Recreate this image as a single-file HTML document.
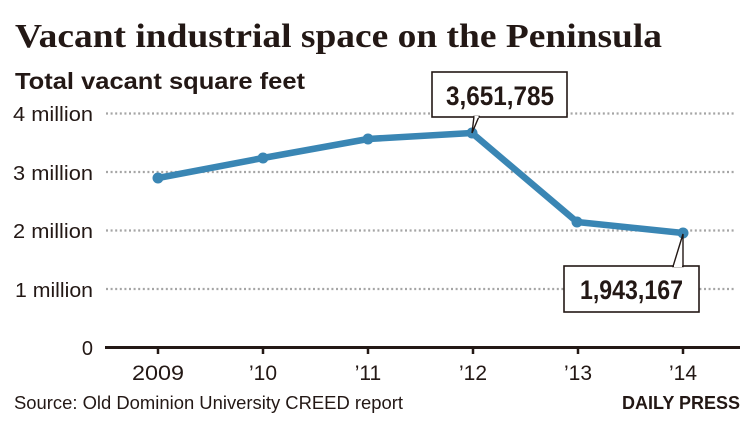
<!DOCTYPE html>
<html><head><meta charset="utf-8"><style>
html,body{margin:0;padding:0;background:#fff;}
svg{display:block;}
</style></head><body>
<svg width="750" height="422" viewBox="0 0 750 422" xmlns="http://www.w3.org/2000/svg">
<rect width="750" height="422" fill="#fff"/>
<text x="15" y="47" font-family="Liberation Serif, serif" font-weight="bold" font-size="34" fill="#231815" textLength="647" lengthAdjust="spacingAndGlyphs">Vacant industrial space on the Peninsula</text>
<text x="15" y="89" font-family="Liberation Sans, sans-serif" font-weight="bold" font-size="23" fill="#231815" textLength="290" lengthAdjust="spacingAndGlyphs">Total vacant square feet</text>
<g stroke="#a5a5a5" stroke-width="2.2" stroke-dasharray="2,2.6">
<line x1="106" y1="113.5" x2="736" y2="113.5"/>
<line x1="106" y1="172" x2="736" y2="172"/>
<line x1="106" y1="230.5" x2="736" y2="230.5"/>
<line x1="106" y1="289" x2="736" y2="289"/>
</g>
<g font-family="Liberation Sans, sans-serif" font-size="20" fill="#231815" text-anchor="end">
<text x="93" y="121" textLength="80" lengthAdjust="spacingAndGlyphs">4 million</text>
<text x="93" y="180" textLength="80" lengthAdjust="spacingAndGlyphs">3 million</text>
<text x="93" y="238" textLength="80" lengthAdjust="spacingAndGlyphs">2 million</text>
<text x="93" y="297" textLength="78" lengthAdjust="spacingAndGlyphs">1 million</text>
<text x="93" y="355">0</text>
</g>
<line x1="105" y1="347.5" x2="740" y2="347.5" stroke="#231815" stroke-width="3"/>
<g stroke="#231815" stroke-width="2.5">
<line x1="158" y1="347" x2="158" y2="354"/>
<line x1="263" y1="347" x2="263" y2="354"/>
<line x1="368" y1="347" x2="368" y2="354"/>
<line x1="473" y1="347" x2="473" y2="354"/>
<line x1="578" y1="347" x2="578" y2="354"/>
<line x1="683" y1="347" x2="683" y2="354"/>
</g>
<g font-family="Liberation Sans, sans-serif" font-size="21" fill="#231815" text-anchor="middle">
<text x="158" y="380" textLength="52" lengthAdjust="spacingAndGlyphs">2009</text>
<text x="263" y="380">’10</text>
<text x="368" y="380">’11</text>
<text x="473" y="380">’12</text>
<text x="578" y="380">’13</text>
<text x="683" y="380">’14</text>
</g>
<polyline points="158,178 263,158 368,139 472,133 577,222 683,233" fill="none" stroke="#3a86b4" stroke-width="6.5" stroke-linejoin="round" stroke-linecap="round"/>
<g fill="#3a86b4">
<circle cx="158" cy="178" r="5.5"/>
<circle cx="263" cy="158" r="5.5"/>
<circle cx="368" cy="139" r="5.5"/>
<circle cx="472" cy="133" r="5.5"/>
<circle cx="577" cy="222" r="5.5"/>
<circle cx="683" cy="233" r="5.5"/>
</g>
<rect x="432" y="72" width="135" height="45" fill="#fff" stroke="#231815" stroke-width="1.6"/>
<polygon points="474,116.5 479,116.5 472,133" fill="#fff" stroke="#231815" stroke-width="1.4"/>
<line x1="474.5" y1="117" x2="478.5" y2="117" stroke="#fff" stroke-width="2"/>
<text x="500" y="105" font-family="Liberation Sans, sans-serif" font-weight="bold" font-size="27" fill="#231815" text-anchor="middle" textLength="108" lengthAdjust="spacingAndGlyphs">3,651,785</text>
<rect x="564" y="266" width="135" height="46" fill="#fff" stroke="#231815" stroke-width="1.6"/>
<polygon points="673,266.5 683,266.5 683,234" fill="#fff" stroke="#231815" stroke-width="1.4"/>
<line x1="674" y1="266" x2="682" y2="266" stroke="#fff" stroke-width="2"/>
<text x="631.5" y="299" font-family="Liberation Sans, sans-serif" font-weight="bold" font-size="27" fill="#231815" text-anchor="middle" textLength="103" lengthAdjust="spacingAndGlyphs">1,943,167</text>
<text x="14" y="409" font-family="Liberation Sans, sans-serif" font-size="18" fill="#231815" textLength="389" lengthAdjust="spacingAndGlyphs">Source: Old Dominion University CREED report</text>
<text x="740" y="409" font-family="Liberation Sans, sans-serif" font-weight="bold" font-size="18" fill="#231815" text-anchor="end" textLength="118" lengthAdjust="spacingAndGlyphs">DAILY PRESS</text>
</svg>
</body></html>
